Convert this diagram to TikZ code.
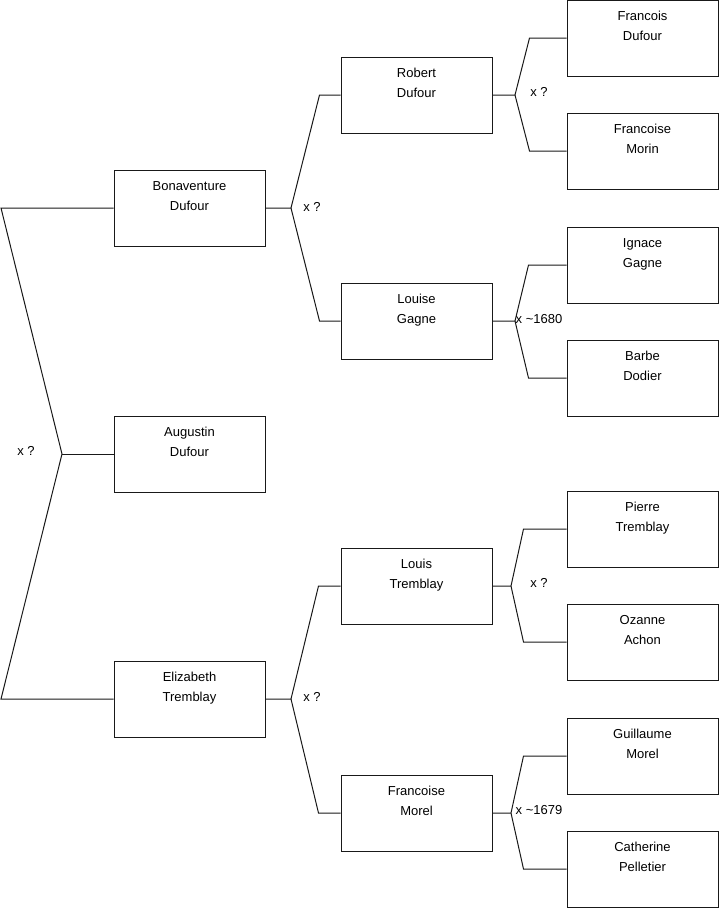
\documentclass[tikz,border=0pt]{standalone}
\usepackage{fontspec}
\setmainfont{Liberation Sans}
\newcommand{\padend}{\\[4pt]\mbox{}}
\begin{document}
\begin{tikzpicture}[x=1pt,y=-1pt,
  pbox/.style={draw=black!90, line width=1pt, minimum width=151pt, minimum height=76pt,
    inner sep=0pt, align=center, font=\fontsize{13}{20}\selectfont},
  conn/.style={draw=black!90, line width=1pt},
  mlabel/.style={font=\fontsize{13}{15}\selectfont, inner sep=0pt}]
\useasboundingbox (0,0) rectangle (719,908);
% column 1
\node[pbox] (bon) at (189.5,208) {Bonaventure\\Dufour\padend};
\node[pbox] (aug) at (189.5,454) {Augustin\\Dufour\padend};
\node[pbox] (eli) at (189.5,699) {Elizabeth\\Tremblay\padend};
% column 2
\node[pbox] (rob) at (416.5,95) {Robert\\Dufour\padend};
\node[pbox] (lou) at (416.5,321) {Louise\\Gagne\padend};
\node[pbox] (lot) at (416.5,586) {Louis\\Tremblay\padend};
\node[pbox] (fmo) at (416.5,813) {Francoise\\Morel\padend};
% column 3
\node[pbox] (fra) at (642.5,38) {Francois\\Dufour\padend};
\node[pbox] (mor) at (642.5,151) {Francoise\\Morin\padend};
\node[pbox] (ign) at (642.5,265) {Ignace\\Gagne\padend};
\node[pbox] (bar) at (642.5,378) {Barbe\\Dodier\padend};
\node[pbox] (pie) at (642.5,529) {Pierre\\Tremblay\padend};
\node[pbox] (oza) at (642.5,642) {Ozanne\\Achon\padend};
\node[pbox] (gui) at (642.5,756) {Guillaume\\Morel\padend};
\node[pbox] (cat) at (642.5,869) {Catherine\\Pelletier\padend};
% junction coordinates
\coordinate (jl) at (62,454);
\coordinate (jb) at (291,208);
\coordinate (je) at (291,699);
\coordinate (jr) at (515,95);
\coordinate (jlo) at (515,321);
\coordinate (jlt) at (511,586);
\coordinate (jfm) at (511,813);
% left bracket
\path[conn] (bon.west) -- (1,208) -- (jl) -- (1,699) -- (eli.west);
\path[conn] (jl) -- (aug.west);
\node[mlabel] (l0) at (26,451) {x ?};
% Bonaventure
\path[conn] (bon.east) -- (jb) -- ([xshift=-21pt]rob.west) -- (rob.west);
\path[conn] (jb) -- ([xshift=-21pt]lou.west) -- (lou.west);
\node[mlabel] (l1) at (312,207) {x ?};
% Elizabeth
\path[conn] (eli.east) -- (je) -- ([xshift=-22pt]lot.west) -- (lot.west);
\path[conn] (je) -- ([xshift=-22pt]fmo.west) -- (fmo.west);
\node[mlabel] (l2) at (312,697) {x ?};
% Robert
\path[conn] (rob.east) -- (jr) -- ([xshift=-37pt]fra.west) -- (fra.west);
\path[conn] (jr) -- ([xshift=-37pt]mor.west) -- (mor.west);
\node[mlabel] (l3) at (539,92) {x ?};
% Louise
\path[conn] (lou.east) -- (jlo) -- ([xshift=-38pt]ign.west) -- (ign.west);
\path[conn] (jlo) -- ([xshift=-38pt]bar.west) -- (bar.west);
\node[mlabel] (l4) at (539,319) {x \textasciitilde1680};
% Louis Tremblay
\path[conn] (lot.east) -- (jlt) -- ([xshift=-43pt]pie.west) -- (pie.west);
\path[conn] (jlt) -- ([xshift=-43pt]oza.west) -- (oza.west);
\node[mlabel] (l5) at (539,583) {x ?};
% Francoise Morel
\path[conn] (fmo.east) -- (jfm) -- ([xshift=-43pt]gui.west) -- (gui.west);
\path[conn] (jfm) -- ([xshift=-43pt]cat.west) -- (cat.west);
\node[mlabel] (l6) at (539,810) {x \textasciitilde1679};
\end{tikzpicture}
\end{document}
